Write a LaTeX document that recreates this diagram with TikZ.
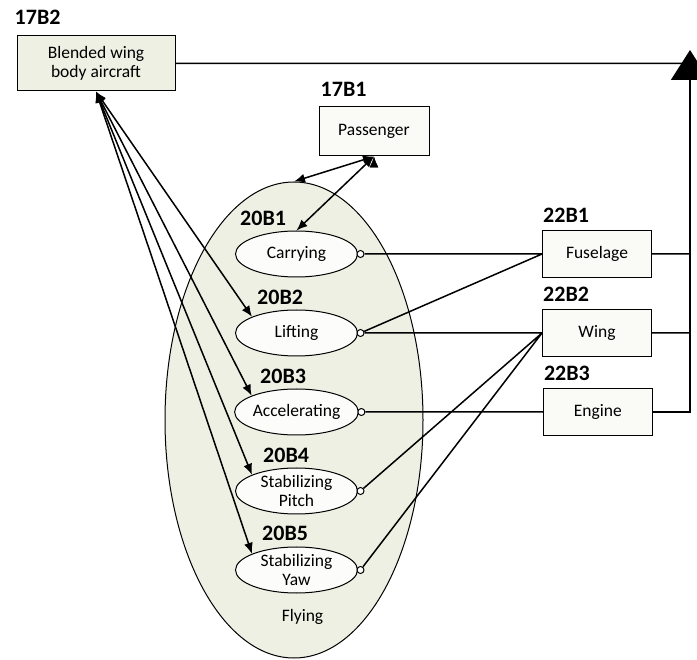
\documentclass[tikz,border=0pt]{standalone}
\usepackage{fontspec}
\setmainfont{Carlito}
\usetikzlibrary{arrows.meta,positioning,shapes.geometric}
\definecolor{olivefill}{HTML}{EEF0E3}
\definecolor{boxfill}{HTML}{FAFAF7}
\definecolor{ovalfill}{HTML}{FCFCFA}

\begin{document}
\begin{tikzpicture}[x=1pt,y=-1pt,>={Latex[length=11pt,width=9pt]}]
        \tikzset{block/.style= {draw, line width=1pt, rectangle, fill=boxfill, align=center, minimum width=109pt, minimum height=47pt, inner sep=0pt, font=\fontsize{17.5}{19}\selectfont},
        oval/.style= {draw, line width=1pt, ellipse, fill=ovalfill, align=center, minimum width=122pt, minimum height=46pt, inner xsep=0pt, inner ysep=-2pt, font=\fontsize{17.5}{19}\selectfont},
        tag/.style= {anchor=base west, inner sep=0pt, font=\fontsize{22}{24}\selectfont\bfseries},
        port/.style= {draw, circle, line width=1pt, fill=white, minimum size=7pt, inner sep=0pt},
        link/.style= {line width=1.5pt}
        }
        \useasboundingbox (0,0) rectangle (697,660);

        \node [draw, line width=1pt, ellipse, fill=olivefill, minimum width=258pt, minimum height=476pt] (flying) at (294,420) {};
        \node [font=\fontsize{17.5}{19}\selectfont] (flyname) at (302.5,617) {Flying};

        \node [block, fill=olivefill, minimum width=158pt, minimum height=55pt] (bwb) at (96,63.5) {Blended wing\\body aircraft};
        \node [block, minimum width=110pt, minimum height=49pt] (pass) at (374,131.5) {Passenger};

        \node [oval] (carry) at (296.5,254) {Carrying};
        \node [oval, below = 32pt of carry] (lift) {Lifting};
        \node [oval, below = 32pt of lift] (accel) {Accelerating};
        \node [oval, below = 32pt of accel] (pitch) {Stabilizing\\Pitch};
        \node [oval, below = 32pt of pitch] (yaw) {Stabilizing\\Yaw};

        \node [block, right = 184pt of carry] (fuse) {Fuselage};
        \node [block, right = 184pt of lift] (wing) {Wing};
        \node [block, right = 184pt of accel] (engine) {Engine};

        \node [tag] (t17B2) at ([xshift=-2pt,yshift=11pt]bwb.north west) {17B2};
        \node [tag] (t17B1) at ([xshift=2pt,yshift=10pt]pass.north west) {17B1};
        \node [tag] (t20B1) at ([xshift=-56.5pt,yshift=5pt]carry.north) {20B1};
        \node [tag] (t20B2) at ([xshift=-39.5pt,yshift=4.5pt]lift.north) {20B2};
        \node [tag] (t20B3) at ([xshift=-36.5pt,yshift=4.5pt]accel.north) {20B3};
        \node [tag] (t20B4) at ([xshift=-33.5pt,yshift=5pt]pitch.north) {20B4};
        \node [tag] (t20B5) at ([xshift=-34.5pt,yshift=6pt]yaw.north) {20B5};
        \node [tag] (t22B1) at ([xshift=1pt,yshift=7pt]fuse.north west) {22B1};
        \node [tag] (t22B2) at ([xshift=1pt,yshift=7pt]wing.north west) {22B2};
        \node [tag] (t22B3) at ([xshift=1pt,yshift=7pt]engine.north west) {22B3};

        \node [port] (carryP) at ([xshift=2.5pt]carry.east) {};
        \node [port] (liftP) at ([xshift=2.5pt]lift.east) {};
        \node [port] (accelP) at ([xshift=2.5pt]accel.east) {};
        \node [port] (pitchP) at ([xshift=2.5pt]pitch.east) {};
        \node [port] (yawP) at ([xshift=2.5pt]yaw.east) {};

        \coordinate (tip) at (690,50);

        \path[draw, link, <->]
            (bwb.south) edge (lift.160)
            (bwb.south) edge (accel.160)
            (bwb.south) edge (pitch.160)
            (bwb.south) edge (yaw.160)
            (pass.south) edge (flying.north)
            (pass.south) edge (carry.north)
                    ;

        \path[draw, link]
            (carryP) -- (fuse.west)
            (liftP) -- (fuse.west)
            (liftP) -- (wing.west)
            (accelP) -- (engine.west)
            (pitchP) -- (wing.west)
            (yawP) -- (wing.west)
            (fuse.east) -- (fuse.east -| tip)
            (wing.east) -- (wing.east -| tip)
            (bwb.east) -- (bwb.east -| tip)
                    ;
        \draw [link, -{Triangle[width=38pt,length=30pt]}] (engine.east) -| (tip);
    \end{tikzpicture}
\end{document}
